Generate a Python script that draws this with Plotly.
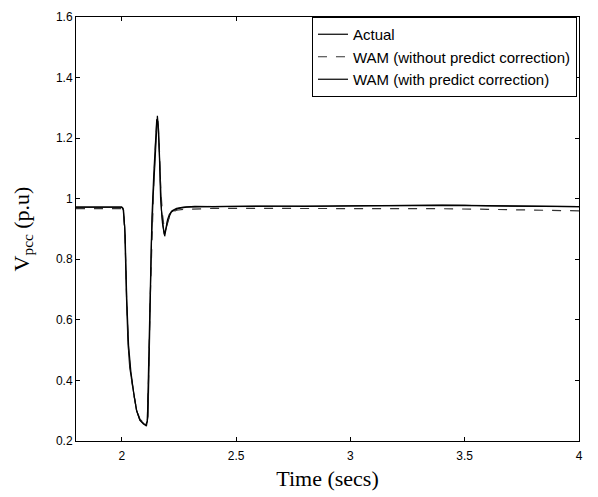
import plotly.graph_objects as go

# Voltage at PCC during the fault
t_actual = [1.8, 2.0, 2.006, 2.013, 2.02, 2.027, 2.035, 2.049, 2.064, 2.079, 2.094, 2.108,
            2.115, 2.122, 2.13, 2.137, 2.144, 2.152, 2.156, 2.161, 2.166, 2.174, 2.181,
            2.188, 2.195, 2.203, 2.21, 2.217, 2.23, 2.25, 2.283, 2.35, 2.5, 2.7, 2.9,
            3.1, 3.3, 3.5, 3.6, 3.7, 3.85, 4.0]
v_actual = [0.972, 0.972, 0.968, 0.907, 0.69, 0.53, 0.443, 0.367, 0.303, 0.27, 0.258, 0.249,
            0.281, 0.584, 0.854, 1.0, 1.11, 1.24, 1.274, 1.23, 1.145, 0.96, 0.91,
            0.876, 0.905, 0.929, 0.945, 0.956, 0.962, 0.968, 0.972, 0.974, 0.974, 0.975, 0.976,
            0.977, 0.978, 0.978, 0.976, 0.976, 0.975, 0.974]

t_wam = [1.8, 2.0, 2.008, 2.015, 2.022, 2.03, 2.04, 2.052, 2.066, 2.08, 2.095, 2.104,
         2.112, 2.118, 2.125, 2.132, 2.14, 2.147, 2.153, 2.158, 2.164, 2.17, 2.178,
         2.186, 2.193, 2.2, 2.208, 2.22, 2.24, 2.27, 2.32, 2.4, 2.6, 2.8, 3.0,
         3.2, 3.4, 3.6, 3.8, 4.0]
v_wam_nocorr = [0.967, 0.967, 0.955, 0.86, 0.65, 0.5, 0.42, 0.355, 0.3, 0.272, 0.26, 0.255,
                0.27, 0.42, 0.68, 0.9, 1.05, 1.17, 1.25, 1.26, 1.18, 1.04, 0.95,
                0.9, 0.9, 0.925, 0.94, 0.955, 0.962, 0.965, 0.967, 0.968, 0.968, 0.968, 0.967,
                0.967, 0.967, 0.965, 0.962, 0.96]
v_wam_corr = [0.972, 0.972, 0.962, 0.88, 0.67, 0.515, 0.43, 0.36, 0.298, 0.268, 0.256, 0.252,
              0.265, 0.45, 0.72, 0.94, 1.08, 1.2, 1.262, 1.255, 1.16, 1.0, 0.92,
              0.882, 0.9, 0.93, 0.948, 0.96, 0.968, 0.972, 0.975, 0.974, 0.976, 0.975, 0.977,
              0.978, 0.979, 0.977, 0.975, 0.974]

fig = go.Figure()
fig.add_trace(go.Scatter(x=t_actual, y=v_actual, mode="lines", name="Actual",
                         legendgroup="a", line=dict(color="black", width=1.2)))
fig.add_trace(go.Scatter(x=t_wam, y=v_wam_nocorr, mode="lines",
                         name="WAM (without predict correction)", legendgroup="b",
                         line=dict(color="#333333", width=1.2, dash="dash")))
fig.add_trace(go.Scatter(x=t_wam, y=v_wam_corr, mode="lines",
                         name="WAM (with predict correction)", legendgroup="c",
                         line=dict(color="black", width=1.2)))

axis_style = dict(
    showline=True, linecolor="black", linewidth=1, mirror="ticks",
    ticks="inside", ticklen=4, tickcolor="black", showgrid=False, zeroline=False,
    ticklabeloverflow="allow",
    tickfont=dict(family="Liberation Sans, Arial", size=12, color="black"),
)
title_font = dict(family="Liberation Serif, Times New Roman", size=22, color="black")

# page body has an 8px margin, so the figure is shrunk by that much
fig.update_layout(
    width=590, height=489,
    margin=dict(l=68, r=19, t=2, b=56),
    plot_bgcolor="white", paper_bgcolor="white",
    xaxis=dict(range=[1.8, 4], dtick=0.5, tick0=2, ticklabelstandoff=4,
               title=dict(text="Time (secs)", standoff=8, font=title_font),
               **axis_style),
    yaxis=dict(range=[0.2, 1.6], dtick=0.2,
               title=dict(text="V<sub>pcc</sub> (p.u)", standoff=20, font=title_font),
               **axis_style),
    legend=dict(x=0.996, y=1.0, xanchor="right", yanchor="top",
                bordercolor="black", borderwidth=1, bgcolor="white",
                tracegroupgap=0,
                font=dict(family="Liberation Sans, Arial", size=15, color="black")),
    showlegend=True,
)

fig.write_html("out.html")
